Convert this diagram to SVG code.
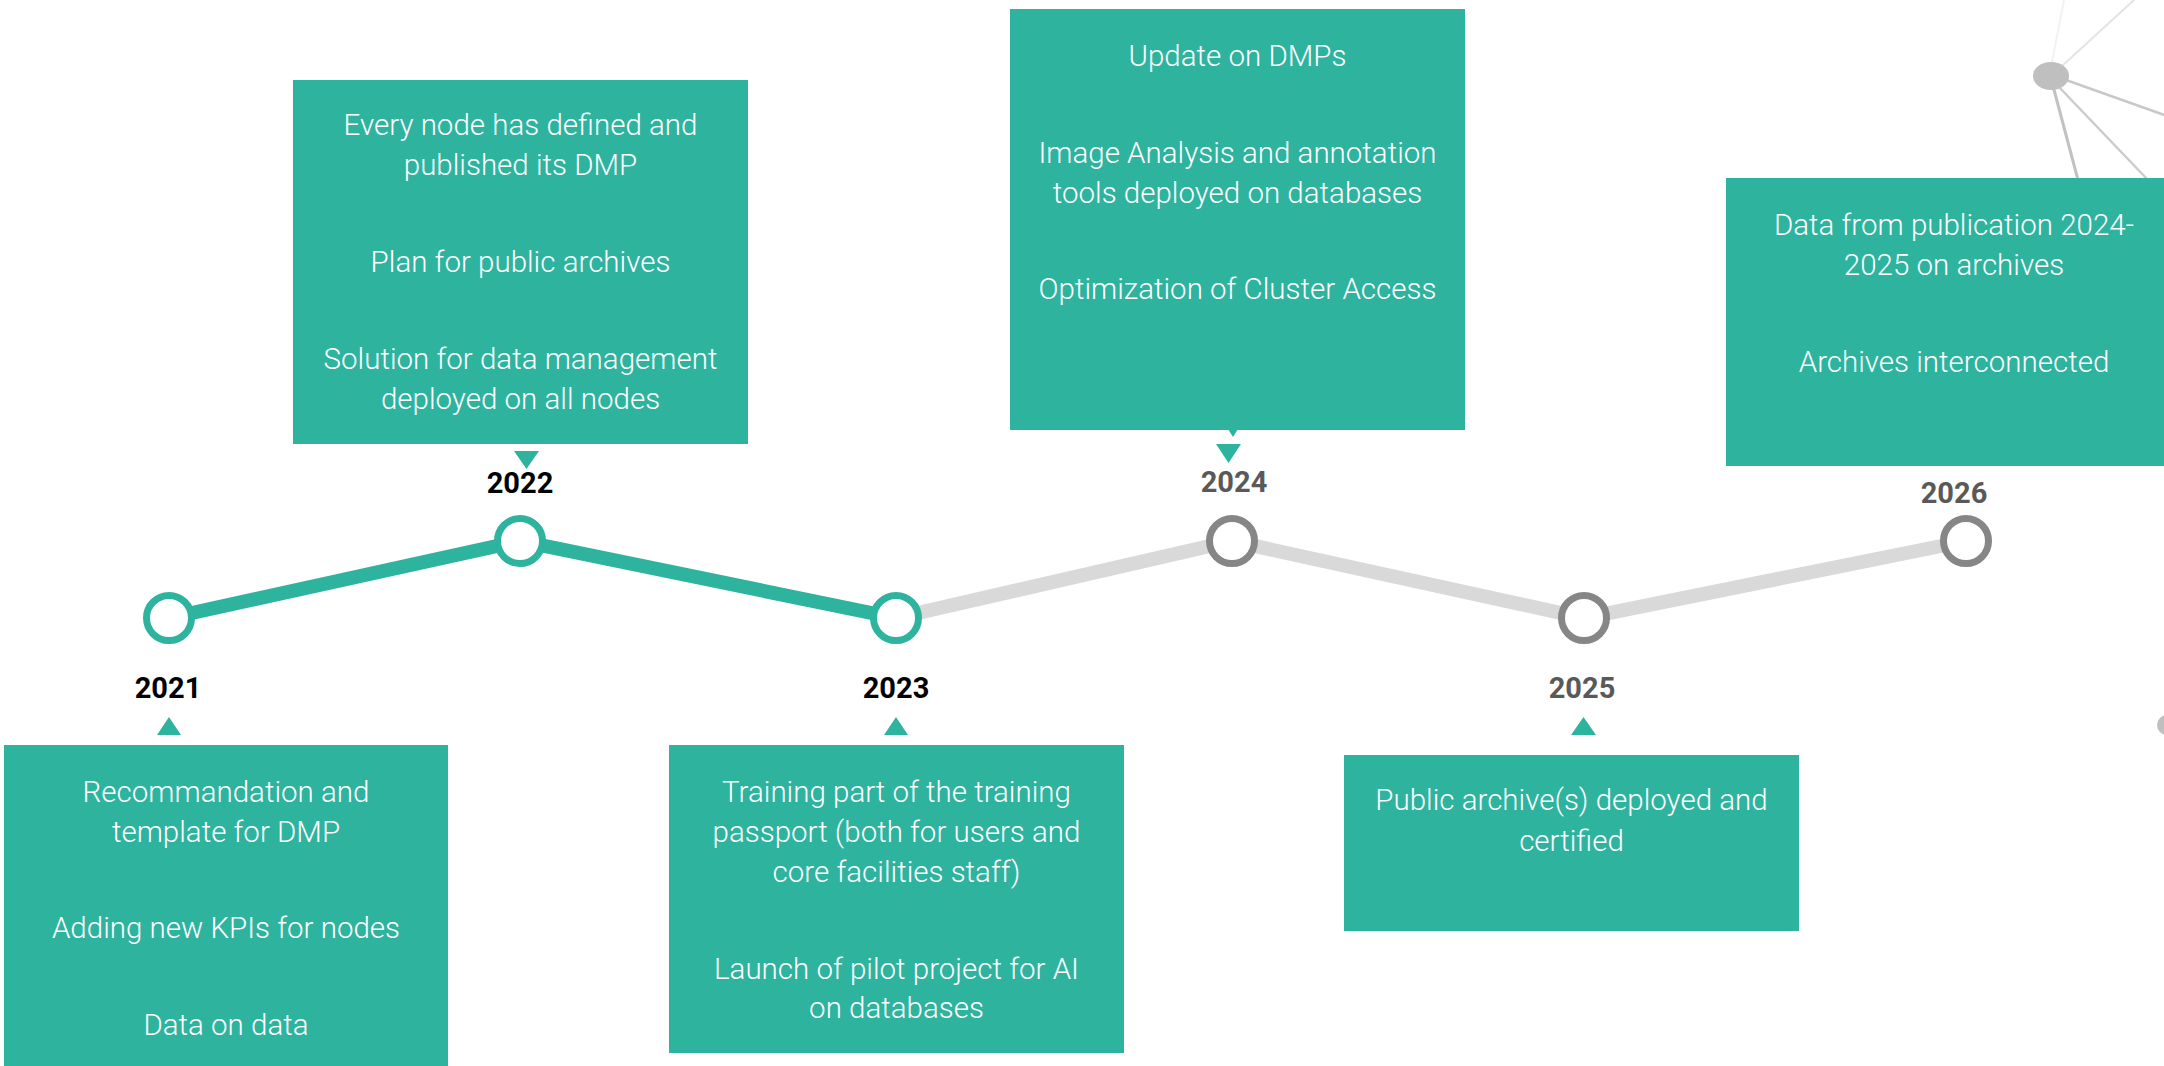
<svg xmlns="http://www.w3.org/2000/svg" width="2164" height="1066" viewBox="0 0 2164 1066">
<style>
.box{fill:#2EB39F}
.t{font-family:Roboto,"Liberation Sans",sans-serif;font-size:29.5px;font-weight:300;fill:#ffffff;text-anchor:middle}
.yr{font-family:Roboto,"Liberation Sans",sans-serif;font-size:29px;font-weight:bold;text-anchor:middle}
.done{fill:#000000}
.todo{fill:#595959}
.ptr{fill:#2EB39F}
.ringA{fill:#ffffff;stroke:#2EB39F;stroke-width:7}
.ringB{fill:#ffffff;stroke:#868686;stroke-width:7}
.net{stroke-linecap:round;fill:none}
</style>
<rect width="2164" height="1066" fill="#ffffff"/>
<g id="decoration">
<line class="net" x1="2052" y1="62" x2="2064" y2="0" stroke="#f2f2f2" stroke-width="2"/>
<line class="net" x1="2062" y1="66" x2="2134" y2="0" stroke="#e4e4e4" stroke-width="2"/>
<line class="net" x1="2066" y1="80" x2="2170" y2="117" stroke="#c8c8c8" stroke-width="2.5"/>
<line class="net" x1="2053" y1="86" x2="2078" y2="180" stroke="#c2c2c2" stroke-width="3"/>
<line class="net" x1="2058" y1="86" x2="2148" y2="180" stroke="#cccccc" stroke-width="2.5"/>
<ellipse cx="2051" cy="76" rx="18" ry="14" fill="#bfbfbf"/>
<circle cx="2167" cy="725" r="10" fill="#bfbfbf"/>
</g>
<g id="connectors">
<polyline points="169,618 520,541 896,618" fill="none" stroke="#2EB39F" stroke-width="14"/>
<polyline points="896,618 1232,541 1584,618 1966,541" fill="none" stroke="#d9d9d9" stroke-width="14"/>
</g>
<g id="n2021">
<circle class="ringA" cx="169" cy="618" r="22.5"/>
<text class="yr done" x="168" y="698">2021</text>
<polygon class="ptr" points="157,735 181,735 169,717"/>
<rect class="box" x="4" y="745" width="444" height="340"/>
<text class="t" x="226" y="802">Recommandation and</text>
<text class="t" x="226" y="842">template for DMP</text>
<text class="t" x="226" y="938">Adding new KPIs for nodes</text>
<text class="t" x="226" y="1035">Data on data</text>
</g>
<g id="n2022">
<rect class="box" x="293" y="80" width="455" height="364"/>
<text class="t" x="520.5" y="135">Every node has defined and</text>
<text class="t" x="520.5" y="175">published its DMP</text>
<text class="t" x="520.5" y="272">Plan for public archives</text>
<text class="t" x="520.5" y="369">Solution for data management</text>
<text class="t" x="520.5" y="409">deployed on all nodes</text>
<polygon class="ptr" points="514,451 539,451 526.5,469"/>
<text class="yr done" x="520" y="493">2022</text>
<circle class="ringA" cx="520" cy="541" r="22.5"/>
</g>
<g id="n2023">
<circle class="ringA" cx="896" cy="618" r="22.5"/>
<text class="yr done" x="896" y="698">2023</text>
<polygon class="ptr" points="884,735 908,735 896,717"/>
<rect class="box" x="669" y="745" width="455" height="308"/>
<text class="t" x="896.5" y="802">Training part of the training</text>
<text class="t" x="896.5" y="842">passport (both for users and</text>
<text class="t" x="896.5" y="882">core facilities staff)</text>
<text class="t" x="896.5" y="979">Launch of pilot project for AI</text>
<text class="t" x="896.5" y="1018">on databases</text>
</g>
<g id="n2024">
<rect class="box" x="1010" y="9" width="455" height="421"/>
<polygon class="ptr" points="1228,429 1238,429 1233,437"/>
<text class="t" x="1237.5" y="66">Update on DMPs</text>
<text class="t" x="1237.5" y="163">Image Analysis and annotation</text>
<text class="t" x="1237.5" y="203">tools deployed on databases</text>
<text class="t" x="1237.5" y="299">Optimization of Cluster Access</text>
<polygon class="ptr" points="1216,444 1241,444 1228.5,463"/>
<text class="yr todo" x="1234" y="492">2024</text>
<circle class="ringB" cx="1232" cy="541" r="22.5"/>
</g>
<g id="n2025">
<circle class="ringB" cx="1584" cy="618" r="22.5"/>
<text class="yr todo" x="1582" y="698">2025</text>
<polygon class="ptr" points="1571,735 1596,735 1583.5,717"/>
<rect class="box" x="1344" y="755" width="455" height="176"/>
<text class="t" x="1571.5" y="810">Public archive(s) deployed and</text>
<text class="t" x="1571.5" y="851">certified</text>
</g>
<g id="n2026">
<rect class="box" x="1726" y="178" width="456" height="288"/>
<text class="t" x="1954" y="235">Data from publication 2024-</text>
<text class="t" x="1954" y="275">2025 on archives</text>
<text class="t" x="1954" y="372">Archives interconnected</text>
<text class="yr todo" x="1954" y="503">2026</text>
<circle class="ringB" cx="1966" cy="541" r="22.5"/>
</g>
</svg>
